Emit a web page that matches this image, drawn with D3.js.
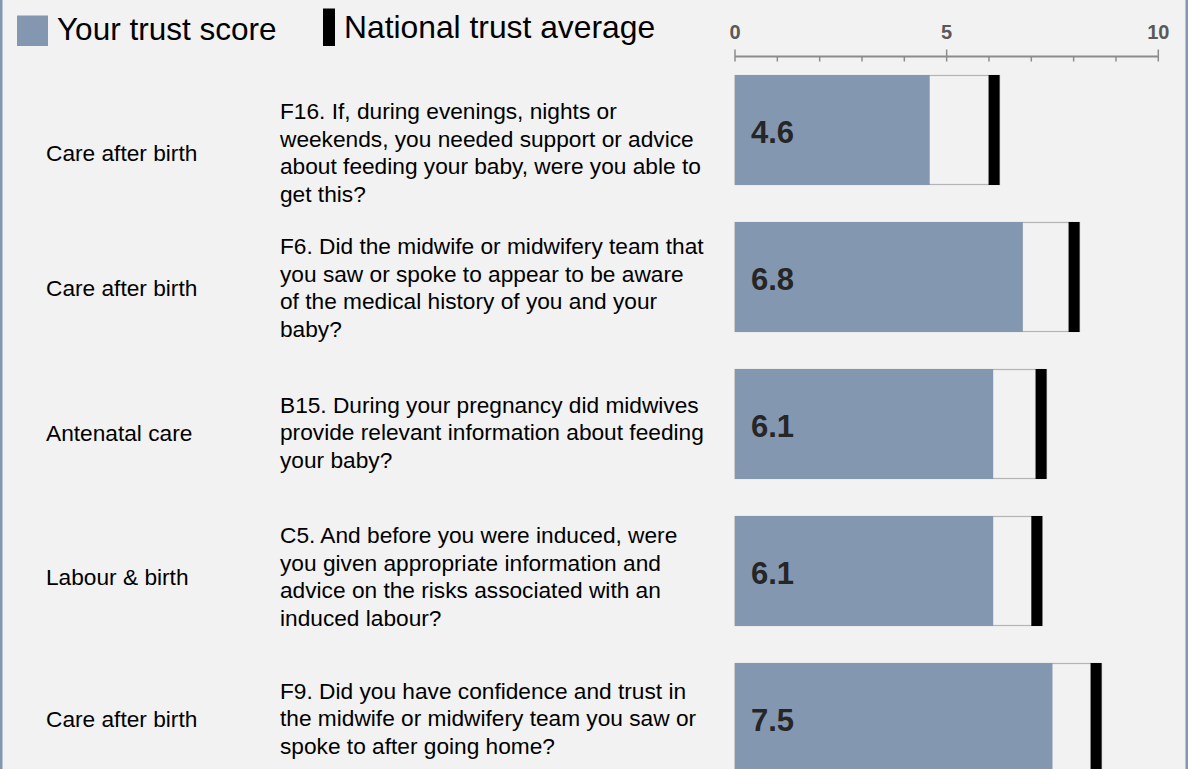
<!DOCTYPE html>
<html>
<head>
<meta charset="utf-8">
<script src="https://cdn.jsdelivr.net/npm/d3@7"></script>
<style>
  html, body { margin: 0; padding: 0; background: #f2f2f2; }
  svg { display: block; font-family: "Liberation Sans", Arial, sans-serif; }
</style>
</head>
<body>
<svg id="chart" width="1188" height="769"></svg>
<script>
// ---- data ----
const categories = ["Care after birth", "Care after birth", "Antenatal care", "Labour & birth", "Care after birth"];
const questions = [
  ["F16. If, during evenings, nights or", "weekends, you needed support or advice", "about feeding your baby, were you able to", "get this?"],
  ["F6. Did the midwife or midwifery team that", "you saw or spoke to appear to be aware", "of the medical history of you and your", "baby?"],
  ["B15. During your pregnancy did midwives", "provide relevant information about feeding", "your baby?"],
  ["C5. And before you were induced, were", "you given appropriate information and", "advice on the risks associated with an", "induced labour?"],
  ["F9. Did you have confidence and trust in", "the midwife or midwifery team you saw or", "spoke to after going home?"]
];
const trustScores = [4.6, 6.8, 6.1, 6.1, 7.5];
const nationalAverages = [6.12, 8.01, 7.23, 7.13, 8.53];
const axisTicks = [0, 5, 10];
const minorTicks = [0, 1, 2, 3, 4, 5, 6, 7, 8, 9, 10];
const legendLabels = ["Your trust score", "National trust average"];

// ---- layout ----
const W = 1188, H = 769;
const barColor = "#8497b0";
const textBlockShift = [23.5, 11.5, 9.5, 6.5, 1.5]; // text block centre relative to bar centre
const svg = d3.select("#chart");

svg.append("rect").attr("width", W).attr("height", H).attr("fill", "#f2f2f2");

const x = d3.scaleLinear().domain([0, 10]).range([735, 1158.3]);
const barH = 109;
const yTop = i => 75 + i * 147;

// legend
svg.append("rect").attr("x", 17).attr("y", 15.5).attr("width", 31).attr("height", 30.5).attr("fill", barColor);
svg.append("text").attr("x", 57).attr("y", 40).attr("font-size", 31.5).attr("fill", "#000").text(legendLabels[0]);
svg.append("rect").attr("x", 323).attr("y", 8.5).attr("width", 12).attr("height", 37.5).attr("fill", "#000");
svg.append("text").attr("x", 344).attr("y", 38).attr("font-size", 31.8).attr("fill", "#000").text(legendLabels[1]);

// axis
const axisY = 56.5;
const axisG = svg.append("g").attr("transform", `translate(0,${axisY})`);
axisG.append("line").attr("x1", x(0)).attr("x2", x(10)).attr("stroke", "#8c8c8c").attr("stroke-width", 2);
axisG.selectAll("line.minor").data(minorTicks).join("line").attr("class", "minor")
  .attr("x1", d => x(d)).attr("x2", d => x(d))
  .attr("y1", d => (d % 5 === 0 ? -7 : 0)).attr("y2", 5)
  .attr("stroke", "#8c8c8c").attr("stroke-width", 1.5);
axisG.selectAll("text").data(axisTicks).join("text")
  .attr("x", d => x(d)).attr("y", -18)
  .attr("text-anchor", "middle")
  .attr("font-size", 20).attr("font-weight", "bold").attr("fill", "#595959")
  .text(d => d);

// rows
const rows = svg.append("g").selectAll("g").data(trustScores).join("g");

// outer box
rows.append("rect")
  .attr("x", x(0)).attr("y", (d, i) => yTop(i) + 0.5)
  .attr("width", (d, i) => x(nationalAverages[i]) + 5.5 - x(0))
  .attr("height", barH)
  .attr("fill", "#f2f2f2").attr("stroke", "#b4b4b4").attr("stroke-width", 1.2);

// trust bar
rows.append("rect")
  .attr("x", x(0)).attr("y", (d, i) => yTop(i))
  .attr("width", d => x(d) - x(0)).attr("height", barH + 1)
  .attr("fill", barColor);

// national marker
rows.append("rect")
  .attr("x", (d, i) => x(nationalAverages[i]) - 5.5).attr("y", (d, i) => yTop(i))
  .attr("width", 11).attr("height", barH + 1)
  .attr("fill", "#000");

// value labels
rows.append("text")
  .attr("x", x(0) + 16).attr("y", (d, i) => yTop(i) + barH / 2 + 13)
  .attr("font-size", 31).attr("font-weight", "bold").attr("fill", "#262626")
  .text(d => d3.format(".1f")(d));

// category labels
const textSize = 22.7;
rows.append("text")
  .attr("x", 46).attr("y", (d, i) => yTop(i) + barH / 2 + textBlockShift[i])
  .attr("dy", "0.34em")
  .attr("font-size", textSize).attr("fill", "#000")
  .text((d, i) => categories[i]);

// questions
const lineH = 27.5;
rows.append("text")
  .attr("font-size", textSize).attr("fill", "#000")
  .each(function(d, i) {
    const lines = questions[i];
    const c = yTop(i) + barH / 2 + textBlockShift[i];
    const first = c - (lines.length - 1) * lineH / 2;
    d3.select(this).selectAll("tspan").data(lines).join("tspan")
      .attr("x", 280).attr("y", (l, k) => first + k * lineH).attr("dy", "0.32em")
      .text(l => l);
  });

// frame edges
svg.append("rect").attr("x", 0).attr("y", 0).attr("width", 2.5).attr("height", H).attr("fill", barColor);
svg.append("rect").attr("x", W - 2.5).attr("y", 0).attr("width", 2.5).attr("height", H).attr("fill", barColor);
</script>
</body>
</html>
